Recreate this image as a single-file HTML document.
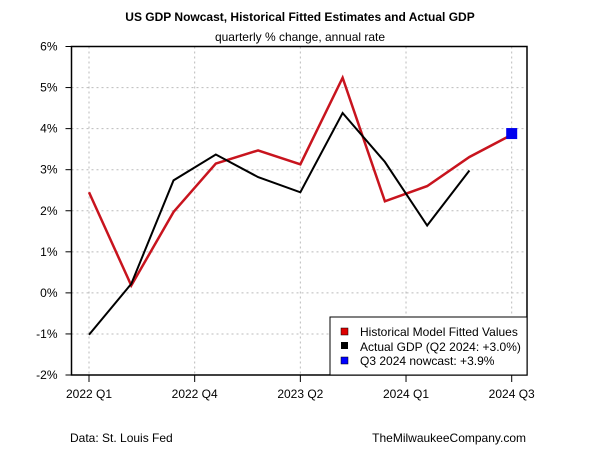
<!DOCTYPE html>
<html><head><meta charset="utf-8"><style>
body{margin:0;background:#fff;}
svg text{font-family:"Liberation Sans",Arial,sans-serif;}
</style></head><body>
<svg id="chart" width="600" height="450" xmlns="http://www.w3.org/2000/svg">
<rect width="600" height="450" fill="#fff"/>
<text x="300" y="21" text-anchor="middle" font-size="12" font-weight="bold">US GDP Nowcast, Historical Fitted Estimates and Actual GDP</text>
<text x="300" y="41" text-anchor="middle" font-size="12">quarterly % change, annual rate</text>
<g id="grid"></g>
<g id="axes"></g>
<g id="series"></g>
<g>
<rect x="330" y="317" width="197" height="58" fill="#fff" stroke="#000" stroke-width="1"/>
<rect x="341" y="328" width="7" height="7" fill="#d00" stroke="#000" stroke-width="0.5"/>
<text x="360" y="336" font-size="12">Historical Model Fitted Values</text>
<rect x="341" y="342" width="7" height="7" fill="#000"/>
<text x="360" y="351" font-size="12">Actual GDP (Q2 2024: +3.0%)</text>
<rect x="341" y="357" width="7" height="7" fill="#00f" stroke="#000" stroke-width="0.5"/>
<text x="360" y="365" font-size="12">Q3 2024 nowcast: +3.9%</text>
</g>
<text x="70" y="442" font-size="12">Data: St. Louis Fed</text>
<text x="526" y="442" text-anchor="end" font-size="12">TheMilwaukeeCompany.com</text>
</svg>
<script>
const quarters = ["2022 Q1","2022 Q2","2022 Q3","2022 Q4","2023 Q1","2023 Q2","2023 Q3","2023 Q4","2024 Q1","2024 Q2","2024 Q3"];
const fitted = [2.45,0.18,1.97,3.15,3.47,3.13,5.24,2.23,2.6,3.31,3.85];
const actual = [-1.02,0.22,2.74,3.37,2.82,2.45,4.38,3.19,1.64,2.98];
const nowcast = 3.88;
const yTicks = [-2,-1,0,1,2,3,4,5,6];
const xTickPos = [0,2.5,5,7.5,10];
const xTickLabels = ["2022 Q1","2022 Q4","2023 Q2","2024 Q1","2024 Q3"];
const NS="http://www.w3.org/2000/svg";
const L=71.5,R=527,T=46.5,B=375;
const x=i=>89+i*(511.7-89)/10;
const y=v=>B-(v+2)*(B-T)/8;
function mk(tag,attrs,parent){const e=document.createElementNS(NS,tag);for(const k in attrs)e.setAttribute(k,attrs[k]);parent.appendChild(e);return e;}
const grid=document.getElementById('grid'),axes=document.getElementById('axes'),series=document.getElementById('series');
yTicks.forEach(v=>{
  const g=mk('line',{x1:L,x2:R,y1:y(v),y2:y(v),stroke:'#bbb','stroke-dasharray':'2,3'},grid);
  
  
  const t=mk('line',{x1:L-6,x2:L,y1:y(v),y2:y(v),stroke:'#000'},axes);
  
  
  const tx=mk('text',{x:L-14,y:y(v)+4,'text-anchor':'end','font-size':'12'},axes);
  tx.textContent=v+'%';
  
  
});
xTickPos.forEach((p,k)=>{
  const g=mk('line',{x1:x(p),x2:x(p),y1:T,y2:B,stroke:'#bbb','stroke-dasharray':'2,3'},grid);
  
  
  const t=mk('line',{x1:x(p),x2:x(p),y1:B,y2:B+7,stroke:'#000'},axes);
  
  
  const tx=mk('text',{x:x(p),y:B+23,'text-anchor':'middle','font-size':'12'},axes);
  tx.textContent=xTickLabels[k];
  
  
});
const box=mk('rect',{x:L,y:T,width:R-L,height:B-T,fill:'none',stroke:'#000','stroke-width':1.5},axes);


const pf=mk('polyline',{points:fitted.map((v,i)=>x(i)+','+y(v)).join(' '),fill:'none',stroke:'#c8141e','stroke-width':2.5},series);


const pa=mk('polyline',{points:actual.map((v,i)=>x(i)+','+y(v)).join(' '),fill:'none',stroke:'#000','stroke-width':2},series);


const nc=mk('rect',{x:x(10)-5.5,y:y(nowcast)-5.5,width:11,height:11,fill:'#0000ee'},series);


</script>
</body></html>
